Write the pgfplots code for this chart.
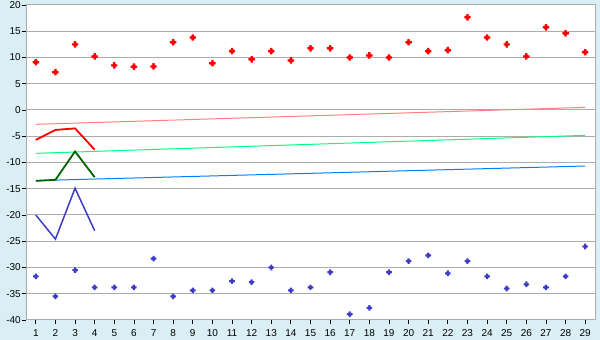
\documentclass[border=0pt]{standalone}
\usepackage{pgfplots}
\pgfplotsset{compat=1.18}
\usepackage{fontspec}
\setmainfont{Liberation Sans}
\definecolor{bg}{RGB}{218,238,245}
\definecolor{gridc}{RGB}{172,172,172}
\definecolor{ptred}{RGB}{255,0,0}
\definecolor{ptblue}{RGB}{60,60,200}
\definecolor{dgreen}{RGB}{0,100,0}
\definecolor{trpink}{RGB}{255,128,128}
\definecolor{trgreen}{RGB}{0,255,128}
\definecolor{trblue}{RGB}{0,128,255}
\pgfdeclareplotmark{fplus}{%
  \pgfpathrectangle{\pgfqpoint{-\pgfplotmarksize}{-0.35\pgfplotmarksize}}{\pgfqpoint{2\pgfplotmarksize}{0.7\pgfplotmarksize}}%
  \pgfpathrectangle{\pgfqpoint{-0.35\pgfplotmarksize}{-\pgfplotmarksize}}{\pgfqpoint{0.7\pgfplotmarksize}{2\pgfplotmarksize}}%
  \pgfpathrectangle{\pgfqpoint{-0.55\pgfplotmarksize}{-0.55\pgfplotmarksize}}{\pgfqpoint{1.1\pgfplotmarksize}{1.1\pgfplotmarksize}}%
  \pgfusepathqfill}
\begin{document}
\begin{tikzpicture}[x=1pt,y=1pt]
\fill[bg] (0,0) rectangle (600,340);
\begin{axis}[
  at={(26pt,20pt)}, anchor=south west,
  scale only axis, width=569pt, height=315pt,
  xmin=0.5, xmax=29.5, ymin=-40, ymax=20,
  xtick={1,...,29}, ytick={-40,-35,...,20},
  ymajorgrids, grid style={gridc, line width=1pt},
  axis line style={gridc, line width=1pt},
  axis background/.style={fill=white},
  tick style={black, line width=0.8pt},
  tick align=outside, major tick length=4pt,
  xtick pos=bottom, ytick pos=left,
  font=\fontsize{10}{12}\selectfont,
  /pgf/number format/assume math mode=true,
  yticklabel style={inner sep=1pt},
  xticklabel style={inner sep=1pt, yshift=-4pt},
]
% trend lines
\addplot[trpink, line width=1pt] coordinates {(1,-2.73) (29,0.5)};
\addplot[trgreen, line width=1pt] coordinates {(1,-8.25) (29,-4.83)};
\addplot[trblue, line width=1pt] coordinates {(1,-13.45) (29,-10.67)};
% short lines
\addplot[ptred, line width=1.8pt] coordinates {(1,-5.7) (2,-3.8) (3,-3.5) (4,-7.55)};
\addplot[dgreen, line width=1.8pt] coordinates {(1,-13.5) (2,-13.3) (3,-7.9) (4,-12.8)};
\addplot[ptblue, line width=1.5pt] coordinates {(1,-20) (2,-24.6) (3,-14.9) (4,-23.0)};
% red points
\addplot[only marks, mark=fplus, mark size=3.2pt, color=ptred] coordinates {
(1,9.1) (2,7.2) (3,12.5) (4,10.2) (5,8.5) (6,8.25) (7,8.3) (8,12.9) (9,13.8)
(10,8.9) (11,11.2) (12,9.65) (13,11.2) (14,9.45) (15,11.75) (16,11.75) (17,10.0) (18,10.4) (19,10.0)
(20,12.9) (21,11.2) (22,11.4) (23,17.65) (24,13.8) (25,12.5) (26,10.2) (27,15.75) (28,14.6) (29,11.0)};
% blue points
\addplot[only marks, mark=fplus, mark size=2.8pt, color=ptblue] coordinates {
(1,-31.7) (2,-35.5) (3,-30.5) (4,-33.8) (5,-33.8) (6,-33.8) (7,-28.3) (8,-35.5) (9,-34.35)
(10,-34.35) (11,-32.6) (12,-32.8) (13,-30.0) (14,-34.35) (15,-33.8) (16,-30.9) (17,-38.9) (18,-37.7) (19,-30.9)
(20,-28.8) (21,-27.7) (22,-31.1) (23,-28.8) (24,-31.7) (25,-34.0) (26,-33.2) (27,-33.8) (28,-31.7) (29,-26.0)};
\end{axis}
\end{tikzpicture}
\end{document}
